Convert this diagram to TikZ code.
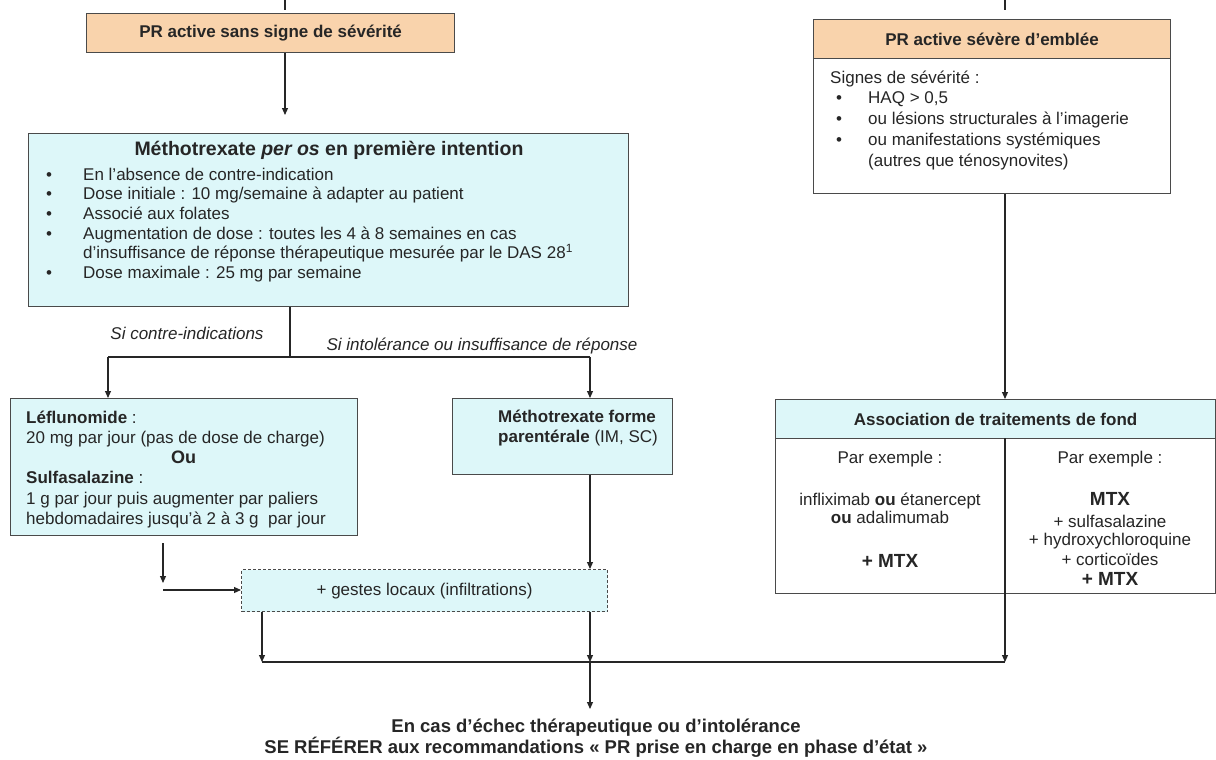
\documentclass[tikz,border=0pt]{standalone}
\usepackage{fontspec}
\setmainfont{Liberation Sans}
\usetikzlibrary{arrows.meta,positioning}
\definecolor{ink}{HTML}{262626}
\definecolor{edge}{HTML}{4A4A4A}
\definecolor{peach}{HTML}{F9D3AC}
\definecolor{aqua}{HTML}{DDF7F9}
\newcommand{\itm}[1]{\makebox[37pt][l]{\textbullet}#1}
\newcommand{\itmsmall}[1]{\hspace*{6pt}\makebox[32pt][l]{\textbullet}#1}
\tikzset{
  plainbox/.style={
    draw=edge, fill=white, line width=1.2pt, anchor=north west,
    inner sep=0pt, text=ink
  },
  peachbox/.style={plainbox, fill=peach,
    font=\bfseries\fontsize{17}{20}\selectfont},
  aquabox/.style={plainbox, fill=aqua,
    font=\bfseries\fontsize{17}{20}\selectfont},
  dashbox/.style={plainbox, fill=aqua, dash pattern=on 3pt off 2pt,
    font=\fontsize{17}{20}\selectfont},
  boxtext/.style={
    anchor=north west, inner sep=0pt, align=left, text=ink,
    font=\fontsize{17}{19.7}\selectfont
  },
  coltext/.style={
    anchor=north, inner sep=0pt, align=center, text=ink,
    font=\fontsize{17}{19.5}\selectfont
  },
  flow/.style={draw=ink, line width=1.1pt, -{Triangle[length=7pt,width=6pt]}},
  link/.style={draw=ink, line width=1.1pt},
  branchlabel/.style={inner sep=0pt, text=ink,
    font=\itshape\fontsize{17}{20}\selectfont}
}
\begin{document}
\begin{tikzpicture}[x=1pt,y=-1pt]
  \useasboundingbox[fill=white] (0,0) rectangle (1216,760);

  % left branch: no severity
  \node[peachbox, minimum width=368pt, minimum height=39pt] (mild) at (86,13)
    {PR active sans signe de sévérité};
  \coordinate (mildtop) at (285,0);
  \draw[link, shorten >=3pt] (mildtop) -- (mildtop |- mild.north);

  \node[aquabox, minimum width=600pt, minimum height=173pt] (mtx) at (28,133) {};
  \node[anchor=base, inner sep=0pt, text=ink,
    font=\bfseries\fontsize{19.5}{22}\selectfont] (mtxtitle) at (329,155)
    {Méthotrexate \textit{per os} en première intention};
  \node[boxtext] (mtxlist) at (46,167.5) {%
    \itm{En l'absence de contre-indication}\\
    \itm{Dose initiale : 10 mg/semaine à adapter au patient}\\
    \itm{Associé aux folates}\\
    \itm{Augmentation de dose : toutes les 4 à 8 semaines en cas}\\
    \hspace*{37pt}d'insuffisance de réponse thérapeutique mesurée par le DAS 28\textsuperscript{1}\\
    \itm{Dose maximale : 25 mg par semaine}};
  \draw[flow, shorten >=18pt] (mild.south -| mildtop) -- (mildtop |- mtx.north);

  % second line treatments
  \coordinate (split) at (290,357);
  \coordinate (leftend) at (108,357);
  \coordinate (rightend) at (590,357);
  \draw[link] (mtx.south -| split) -- (split);
  \draw[link] (leftend) -- (rightend);
  \node[branchlabel] (cilabel) at (187,333) {Si contre-indications};
  \node[branchlabel] (intollabel) at (482,346) {Si intolérance ou insuffisance de réponse};

  \node[aquabox, minimum width=347pt, minimum height=137pt] (lef) at (10,398) {};
  \node[boxtext, font=\fontsize{17}{20.2}\selectfont] (leftxt) at (26,410.5) {%
    \textbf{Léflunomide} :\\
    20 mg par jour (pas de dose de charge)\\
    \makebox[315pt][c]{\bfseries\fontsize{18}{20}\selectfont Ou}\\
    \textbf{Sulfasalazine} :\\[0.5pt]
    1 g par jour puis augmenter par paliers\\
    hebdomadaires jusqu'à 2 à 3 g~ par jour};
  \node[aquabox, minimum width=220pt, minimum height=76pt] (mtxp) at (452,398) {};
  \node[boxtext, font=\fontsize{17}{20}\selectfont] (mtxptxt) at (498,409.5) {%
    \textbf{Méthotrexate forme}\\
    \textbf{parentérale} (IM, SC)};
  \draw[flow] (leftend) -- (leftend |- lef.north);
  \draw[flow] (rightend) -- (rightend |- mtxp.north);

  \node[dashbox, minimum width=366pt, minimum height=42pt] (local) at (241,569)
    {+ gestes locaux (infiltrations)};
  \coordinate (lefdrop) at (163,583);
  \coordinate (lefturn) at (163,590);
  \draw[flow, shorten <=7pt] (lef.south -| lefdrop) -- (lefdrop);
  \draw[flow] (lefturn) -- (lefturn -| local.west);
  \draw[flow] (mtxp.south -| rightend) -- (rightend |- local.north);

  % right branch: severe
  \node[peachbox, minimum width=357pt, minimum height=39pt] (severe) at (813,19)
    {PR active sévère d'emblée};
  \node[plainbox, minimum width=357pt, minimum height=135pt] (signs) at (813,58) {};
  \node[boxtext, font=\fontsize{17}{20.75}\selectfont] (signstxt) at (830,70.5) {%
    Signes de sévérité :\\
    \itmsmall{HAQ > 0,5}\\
    \itmsmall{ou lésions structurales à l'imagerie}\\
    \itmsmall{ou manifestations systémiques}\\
    \hspace*{38pt}(autres que ténosynovites)};
  \coordinate (severetop) at (1005,0);
  \draw[link, shorten >=9pt] (severetop) -- (severetop |- severe.north);

  \node[aquabox, minimum width=440pt, minimum height=39pt] (assochead) at (775,399)
    {Association de traitements de fond};
  \node[plainbox, minimum width=440pt, minimum height=155pt] (assocbody) at (775,438) {};
  \draw[link] (assocbody.north -| severetop) -- (assocbody.south -| severetop);
  \draw[flow] (signs.south -| severetop) -- (severetop |- assochead.north);
  \node[coltext] (biologic) at (890,450.5) {%
    Par exemple :\\[22.5pt]
    infliximab \textbf{ou} étanercept\\[-1.5pt]
    \textbf{ou} adalimumab\\[24.5pt]
    {\bfseries\fontsize{19}{21}\selectfont + MTX}};
  \node[coltext] (combo) at (1110,450.5) {%
    Par exemple :\\[22.5pt]
    {\bfseries\fontsize{19}{21}\selectfont MTX}\\[2.5pt]
    + sulfasalazine\\[-1.5pt]
    + hydroxychloroquine\\[0.5pt]
    + corticoïdes\\[0.5pt]
    {\bfseries\fontsize{19}{21}\selectfont + MTX}};

  % merge and outcome
  \coordinate (mergel) at (262,662);
  \coordinate (merge) at (590,662);
  \coordinate (merger) at (1005,662);
  \draw[flow] (local.south -| mergel) -- (mergel);
  \draw[flow] (local.south -| merge) -- (merge);
  \draw[flow] (assocbody.south -| merger) -- (merger);
  \draw[link] (mergel) -- (merger);
  \node[anchor=north, inner sep=0pt, align=center, text=ink,
    font=\bfseries\fontsize{18.5}{21}\selectfont] (outcome) at (596,719) {%
    En cas d'échec thérapeutique ou d'intolérance\\
    SE RÉFÉRER aux recommandations « PR prise en charge en phase d'état »};
  \draw[flow] (merge) -- (merge |- 0,709);
\end{tikzpicture}
\end{document}
